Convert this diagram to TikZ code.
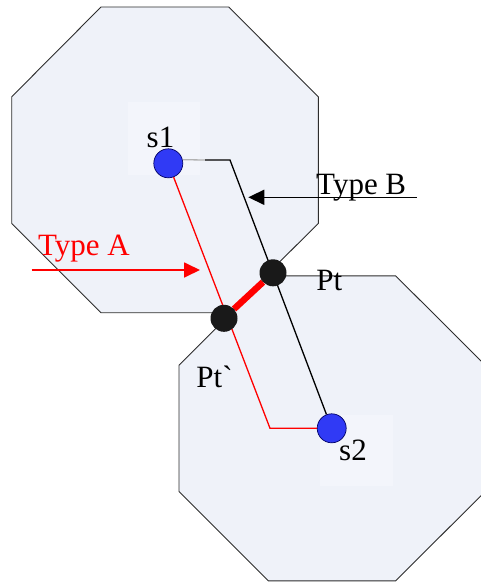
\documentclass[tikz,border=0pt]{standalone}
\usepackage{fontspec}
\newfontfamily\lblfont{Liberation Serif}
\usetikzlibrary{arrows.meta}
\definecolor{zonefill}{RGB}{239,242,249}
\definecolor{zoneline}{RGB}{45,45,45}
\definecolor{texbox}{RGB}{243,245,251}
\definecolor{sensorblue}{RGB}{48,58,245}
\definecolor{jdark}{RGB}{25,25,25}
\begin{document}
\begin{tikzpicture}[x=1pt,y=-1pt,
  zone/.style={fill=zonefill,draw=zoneline,line width=0.9pt,line join=miter},
  boxbg/.style={fill=texbox,draw=none},
  sensor/.style={circle,fill=sensorblue,draw=black!60!blue,line width=0.7pt,minimum size=29pt,inner sep=0pt},
  junction/.style={circle,fill=jdark,minimum size=27pt,inner sep=0pt},
  lbl/.style={anchor=base west,inner sep=0pt,font=\lblfont\fontsize{31}{37}\selectfont},
  pathB/.style={draw=black,line width=1.3pt},
  pathA/.style={draw=red,line width=1.3pt},
  shared/.style={draw=red,line width=6.5pt},
  arrowB/.style={draw=black,line width=1.6pt,-{Triangle[length=16pt,width=15pt]}},
  arrowA/.style={draw=red,line width=1.8pt,-{Triangle[length=16pt,width=15pt]}}]
\useasboundingbox (0,0) rectangle (481,583);
\clip (0,0) rectangle (481,583);
% zones
\draw[zone] (101,7) -- (228.7,7) -- (318.3,96.8) -- (318.3,223.4) -- (228.7,312.7) -- (101,312.7) -- (11.7,223.4) -- (11.7,96.8) -- cycle;
\draw[zone] (268.3,275.9) -- (395.7,275.9) -- (485.3,365.2) -- (485.3,491.4) -- (395.7,580.8) -- (268.3,580.8) -- (179,491.4) -- (179,365.2) -- cycle;
% faint boxes behind sensors
\fill[boxbg] (128.3,102.4) rectangle (200,175);
\fill[boxbg] (320,415) rectangle (393.3,485.9);
% nodes
\node[sensor] (s1) at (168.3,163.3) {};
\node[sensor] (s2) at (331.7,428.3) {};
\coordinate (cG) at (205,160);
\coordinate (cB) at (230,160);
\coordinate (cA) at (270,428.3);
% paths
\draw[draw=gray!60,line width=1.3pt] (s1.14) -- (cG);
\draw[pathB] (cG) -- (cB) -- (s2);
\draw[pathA] (s1) -- (cA) -- (s2);
\node[junction] (pt) at (273,272.8) {};
\node[junction] (ptp) at (224,318.3) {};
\draw[shared] (pt) -- (ptp);
% arrows
\coordinate (bStart) at (416.7,197.3);
\coordinate (bEnd) at (248.3,197.3);
\draw[arrowB] (bStart) -- (bEnd);
\coordinate (aStart) at (31.7,270);
\coordinate (aEnd) at (200,270);
\draw[arrowA] (aStart) -- (aEnd);
% labels
\node[lbl] (lblB) at (316,194) {Type B};
\node[lbl,text=red] (lblA) at (37.8,255) {Type A};
\node[lbl] (lbls1) at (146.5,147.3) {s1};
\node[lbl] (lbls2) at (339,460) {s2};
\node[lbl] (lblpt) at (316.2,290.7) {Pt};
\node[lbl] (lblptp) at (196.2,387.3) {Pt`};
\end{tikzpicture}
\end{document}
